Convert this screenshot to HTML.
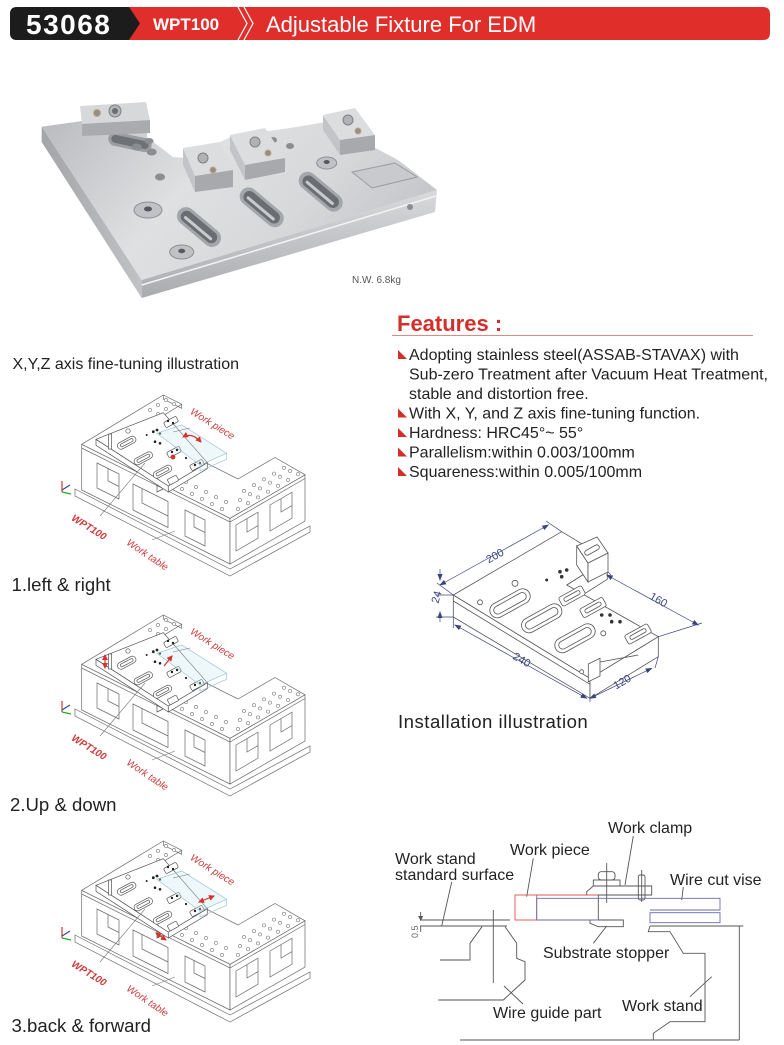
<!DOCTYPE html>
<html><head><meta charset="utf-8">
<style>
html,body{margin:0;padding:0;background:#fff;}
svg{display:block;font-family:"Liberation Sans",Arial,sans-serif;}
</style></head><body>
<svg width="784" height="1045" viewBox="0 0 784 1045" xmlns="http://www.w3.org/2000/svg">
<defs>
 <linearGradient id="topg" x1="0" y1="0" x2="1" y2="0.35">
  <stop offset="0" stop-color="#b9bbbe"/><stop offset="0.45" stop-color="#dfe0e2"/><stop offset="0.75" stop-color="#d6d8da"/><stop offset="1" stop-color="#c6c8cb"/>
 </linearGradient>
 <linearGradient id="frontg" x1="0" y1="0" x2="0" y2="1">
  <stop offset="0" stop-color="#d9dadc"/><stop offset="1" stop-color="#a9abaf"/>
 </linearGradient>
 <linearGradient id="leftg" x1="0" y1="0" x2="1" y2="0">
  <stop offset="0" stop-color="#a3a5a9"/><stop offset="1" stop-color="#c0c2c5"/>
 </linearGradient>
 <marker id="ra" markerWidth="6" markerHeight="6" refX="5" refY="3" orient="auto-start-reverse" markerUnits="userSpaceOnUse"><path d="M0,0 L6,3 L0,6z" fill="#d8322e"/></marker>
 <marker id="ba" markerWidth="7" markerHeight="6" refX="6" refY="3" orient="auto-start-reverse" markerUnits="userSpaceOnUse"><path d="M0,0.5 L7,3 L0,5.5z" fill="#3a4580"/></marker>
 <marker id="ga" markerWidth="5" markerHeight="5" refX="4" refY="2.5" orient="auto-start-reverse" markerUnits="userSpaceOnUse"><path d="M0,0 L5,2.5 L0,5z" fill="#555"/></marker>

 <g id="tbl">
  <g stroke="#6a6a6a" stroke-width="0.7" fill="#fff">
   <polygon points="75,489 230,569 310,526 310,532 230,576 75,496"/>
   <polygon points="81.7,444.3 230,518.3 230,564 81.7,490"/>
   <polygon points="230,518.3 305,474.8 305,521 230,564"/>
   <polygon points="81.7,444.3 163.3,395 181.7,404.3 140,429.7 238,479 275,457.5 305,474.8 230,518.3"/>
   <polyline points="81.7,448 230,522 305,478.5" fill="none"/>
   <polyline points="163.3,395 163.3,399 181.7,408.3 181.7,404.3" fill="none"/>
   <polygon points="97,463 119,474 119,499 97,488" fill="none"/>
   <polyline points="108,468.5 108,481 119,486.5" fill="none"/>
   <polygon points="133,484 168,501.5 168,527.5 133,510" fill="none"/>
   <polyline points="142,488.5 142,503 168,516" fill="none"/>
   <polygon points="185,510 205,520 205,546 185,536" fill="none"/>
   <polyline points="194,514.5 194,527 205,532.5" fill="none"/>
   <polygon points="236,525 258,512.2 258,538.2 236,551" fill="none"/>
   <polyline points="247,518.6 247,532 258,525.6" fill="none"/>
   <polygon points="270,505 292,492.2 292,518.2 270,531" fill="none"/>
   <polyline points="281,498.6 281,512 292,505.6" fill="none"/>
  </g>
  <g stroke="#777" stroke-width="0.6" fill="#fff">
   <circle cx="182" cy="489" r="1.6"/><circle cx="192" cy="494" r="1.6"/><circle cx="202" cy="499" r="1.6"/><circle cx="212" cy="504" r="1.6"/><circle cx="222" cy="509" r="1.6"/>
   <circle cx="186" cy="482" r="1.6"/><circle cx="196" cy="487" r="1.6"/><circle cx="206" cy="492" r="1.6"/><circle cx="216" cy="497" r="1.6"/><circle cx="226" cy="502" r="1.6"/>
   <circle cx="238" cy="509" r="1.6"/><circle cx="248" cy="503.2" r="1.6"/><circle cx="258" cy="497.4" r="1.6"/><circle cx="268" cy="491.6" r="1.6"/><circle cx="278" cy="485.8" r="1.6"/><circle cx="288" cy="480" r="1.6"/><circle cx="298" cy="474.2" r="1.6"/>
   <circle cx="240" cy="500" r="1.6"/><circle cx="250" cy="494.2" r="1.6"/><circle cx="260" cy="488.4" r="1.6"/><circle cx="270" cy="482.6" r="1.6"/><circle cx="280" cy="476.8" r="1.6"/><circle cx="290" cy="471" r="1.6"/>
   <circle cx="244" cy="491" r="1.6"/><circle cx="254" cy="485.2" r="1.6"/><circle cx="264" cy="479.4" r="1.6"/><circle cx="274" cy="473.6" r="1.6"/><circle cx="284" cy="467.8" r="1.6"/>
   <circle cx="150" cy="410" r="1.6"/><circle cx="158" cy="405" r="1.6"/><circle cx="166" cy="400" r="1.6"/><circle cx="158" cy="414" r="1.6"/><circle cx="166" cy="409" r="1.6"/><circle cx="174" cy="404" r="1.6"/>
  </g>
  <g stroke="#555" stroke-width="0.7" fill="#fff">
   <polygon points="96,439.3 168.3,486 168.3,492 96,445.3"/>
   <polygon points="168.3,486 207.3,462.7 207.3,468.7 168.3,492"/>
   <polygon points="96,439.3 163.3,412.7 207.3,462.7 168.3,486"/>
   <rect x="-10" y="-3.5" width="20" height="7" rx="3.5" transform="translate(126.7,442.7) rotate(-28)"/>
   <rect x="-7" y="-1.5" width="14" height="3" rx="1.5" transform="translate(126.7,442.7) rotate(-28)"/>
   <rect x="-10" y="-3.5" width="20" height="7" rx="3.5" transform="translate(143.3,458.3) rotate(-28)"/>
   <rect x="-7" y="-1.5" width="14" height="3" rx="1.5" transform="translate(143.3,458.3) rotate(-28)"/>
   <rect x="-10" y="-3.5" width="20" height="7" rx="3.5" transform="translate(162.5,471.7) rotate(-28)"/>
   <rect x="-7" y="-1.5" width="14" height="3" rx="1.5" transform="translate(162.5,471.7) rotate(-28)"/>
   <rect x="-7" y="-3" width="14" height="6" rx="1.5" transform="translate(171,422) rotate(-28)"/>
   <rect x="-7" y="-3" width="14" height="6" rx="1.5" transform="translate(174,452) rotate(-28)"/>
   <rect x="-7" y="-3" width="14" height="6" rx="1.5" transform="translate(197,465) rotate(-28)"/>
   <rect x="-5" y="-3" width="10" height="6" rx="1" transform="translate(173,480) rotate(-28)"/>
   <rect x="108.5" y="434" width="3" height="15"/>
   <circle cx="128" cy="431" r="2.2"/>
   <polyline points="157,485 157,492 163,489" fill="none"/>
  </g>
  <g fill="#222">
   <circle cx="146.7" cy="435" r="1"/><circle cx="153.3" cy="431.7" r="1.4"/><circle cx="157" cy="430" r="1.4"/><circle cx="160" cy="433.5" r="1.2"/>
   <circle cx="155" cy="441.7" r="1.3"/><circle cx="160" cy="443.3" r="1.3"/><circle cx="168" cy="421" r="1.2"/><circle cx="173" cy="423" r="1.2"/>
   <circle cx="172" cy="452" r="1.2"/><circle cx="177" cy="450" r="1.2"/><circle cx="195" cy="465" r="1.2"/><circle cx="200" cy="463" r="1.2"/><circle cx="186" cy="458" r="1.1"/>
  </g>
  <polygon points="156.7,433.3 181.7,425 226.7,453.3 200,465" fill="rgba(205,232,242,0.35)" stroke="#9cc4d4" stroke-width="0.7"/>
  <polyline points="200,465 200,471 226.7,459.3 226.7,453.3" fill="none" stroke="#9cc4d4" stroke-width="0.7"/>
  <g stroke="#777" stroke-width="0.6">
   <line x1="100" y1="516" x2="145" y2="463"/>
   <line x1="152" y1="540" x2="175" y2="531"/>
   <line x1="173" y1="432" x2="190" y2="428"/>
  </g>
  <line x1="62" y1="492" x2="62" y2="481" stroke="#d33" stroke-width="1.2"/>
  <line x1="62" y1="490" x2="70" y2="485" stroke="#34a" stroke-width="1.2"/>
  <line x1="62" y1="492" x2="71" y2="494" stroke="#2a2" stroke-width="1.2"/>
 </g>
</defs>

<!-- HEADER -->
<path d="M17,7 H763 Q770,7 770,14 V33 Q770,40 763,40 H17 Q10,40 10,33 V14 Q10,7 17,7 Z" fill="#e02f2b"/>
<path d="M17,7 H129 L140,23.5 L129,40 H17 Q10,40 10,33 V14 Q10,7 17,7 Z" fill="#1c1c1c"/>
<text x="26" y="34" font-size="28" font-weight="bold" fill="#fff" letter-spacing="1.5">53068</text>
<text x="153" y="30" font-size="17" font-weight="bold" fill="#fff">WPT100</text>
<path d="M238,7 L247,23.5 L238,40 M244,7 L253,23.5 L244,40" stroke="#fff" stroke-width="1.2" fill="none"/>
<text x="266" y="32" font-size="22" fill="#fff">Adjustable Fixture For EDM</text>

<!-- PRODUCT PHOTO -->
<polygon points="41.7,126.7 141.7,280 141.7,298 41.7,142" fill="url(#leftg)"/>
<polygon points="141.7,280 437,190 435,212 141.7,298" fill="url(#frontg)"/>
<line x1="141.7" y1="285" x2="436" y2="196" stroke="#f3f3f3" stroke-width="1.5"/>
<polygon points="41.7,126.7 82,121 147,123 147,137 173,157 186,158 233,136 290,128 326,122 398,160 437,190 141.7,280" fill="url(#topg)"/>
<g transform="translate(130,142) rotate(12)"><rect x="-22" y="-7" width="44" height="14" rx="7" fill="#9a9da1"/><rect x="-19" y="-4" width="38" height="8" rx="4" fill="#6e7176"/></g>
<g transform="translate(199,227) rotate(40)"><rect x="-26" y="-9" width="52" height="18" rx="9" fill="#a3a6aa"/><rect x="-22" y="-6" width="44" height="12" rx="6" fill="#6a6d72"/><rect x="-18" y="0" width="36" height="3" rx="1.5" fill="#c8cacc"/></g>
<g transform="translate(261.7,207.3) rotate(40)"><rect x="-26" y="-9" width="52" height="18" rx="9" fill="#a3a6aa"/><rect x="-22" y="-6" width="44" height="12" rx="6" fill="#6a6d72"/><rect x="-18" y="0" width="36" height="3" rx="1.5" fill="#c8cacc"/></g>
<g transform="translate(320.7,191.7) rotate(40)"><rect x="-26" y="-9" width="52" height="18" rx="9" fill="#a3a6aa"/><rect x="-22" y="-6" width="44" height="12" rx="6" fill="#6a6d72"/><rect x="-18" y="0" width="36" height="3" rx="1.5" fill="#c8cacc"/></g>
<ellipse cx="148" cy="210" rx="14" ry="8" fill="#bfc1c4" stroke="#8d9093"/>
<ellipse cx="148" cy="209" rx="4" ry="2.5" fill="#55585c"/>
<ellipse cx="181.7" cy="252" rx="12" ry="7" fill="#bfc1c4" stroke="#8d9093"/>
<ellipse cx="181.7" cy="251" rx="3.5" ry="2.2" fill="#55585c"/>
<ellipse cx="326.7" cy="163" rx="10" ry="6" fill="#bfc1c4" stroke="#8d9093"/>
<ellipse cx="326.7" cy="162" rx="3" ry="2" fill="#55585c"/>
<g fill="#8a8d91">
 <ellipse cx="136.7" cy="147" rx="5" ry="3.5"/><ellipse cx="151.7" cy="152" rx="5" ry="3.5"/><ellipse cx="149" cy="141" rx="4.5" ry="3"/>
 <ellipse cx="160" cy="177" rx="5" ry="3.5"/><ellipse cx="273" cy="140" rx="4" ry="3"/><ellipse cx="290" cy="146" rx="4" ry="3"/><ellipse cx="276" cy="151" rx="3.5" ry="2.5"/>
 <circle cx="410" cy="207" r="3"/><circle cx="186" cy="160" r="3"/>
</g>
<polygon points="80,106 146,102 150,120 82,124" fill="#d7d8da"/>
<polygon points="82,124 150,120 150,133 82,136" fill="#a9abaf"/>
<circle cx="97" cy="113" r="3.5" fill="#8c8f93" stroke="#c9a77a"/><circle cx="115" cy="111" r="6" fill="#b3b5b8" stroke="#7e8185"/><circle cx="115" cy="111" r="3" fill="#6b6e72"/>
<polygon points="183,148 195,176 195,192 183,165" fill="#c2c4c7"/>
<polygon points="183,148 220,142 233,170 195,176" fill="#dcdddf"/>
<polygon points="195,176 233,170 233,187 195,192" fill="#a7a9ad"/>
<circle cx="203" cy="158" r="5" fill="#b0b2b5" stroke="#7e8185"/><circle cx="213" cy="170" r="3" fill="#8c8f93" stroke="#c9a77a"/>
<polygon points="230,135 245,165 245,180 230,150" fill="#c2c4c7"/>
<polygon points="230,135 265,128 285,158 245,165" fill="#dcdddf"/>
<polygon points="245,165 285,158 285,172 245,180" fill="#a7a9ad"/>
<circle cx="255" cy="142" r="5" fill="#b0b2b5" stroke="#7e8185"/><circle cx="268" cy="153" r="3" fill="#8c8f93" stroke="#c9a77a"/>
<polygon points="323,115 340,140 340,155 323,130" fill="#c2c4c7"/>
<polygon points="323,115 355,108 375,135 340,140" fill="#dcdddf"/>
<polygon points="340,140 375,135 375,150 340,155" fill="#a7a9ad"/>
<circle cx="348" cy="120" r="5" fill="#b0b2b5" stroke="#7e8185"/><circle cx="358" cy="131" r="3" fill="#8c8f93" stroke="#c9a77a"/>
<polygon points="352,172 395,163 417,177 372,188" fill="#c8cacd" stroke="#9a9c9f"/>
<text x="352" y="283" font-size="10" fill="#555">N.W. 6.8kg</text>

<!-- FEATURES -->
<text x="397" y="331" font-size="22" font-weight="bold" fill="#d42e2a">Features :</text>
<line x1="392" y1="335.5" x2="753" y2="335.5" stroke="#e08a88" stroke-width="1"/>
<g fill="#d42e2a">
 <polygon points="398,350 398,359 407,359"/>
 <polygon points="398,408.5 398,417.5 407,417.5"/>
 <polygon points="398,428 398,437 407,437"/>
 <polygon points="398,447.5 398,456.5 407,456.5"/>
 <polygon points="398,467 398,476 407,476"/>
</g>
<g font-size="16" fill="#222">
 <text x="409" y="360">Adopting stainless steel(ASSAB-STAVAX) with</text>
 <text x="409" y="379.5">Sub-zero Treatment after Vacuum Heat Treatment,</text>
 <text x="409" y="399">stable and distortion free.</text>
 <text x="409" y="418.5">With X, Y, and Z axis fine-tuning function.</text>
 <text x="409" y="438">Hardness: HRC45°~ 55°</text>
 <text x="409" y="457.5">Parallelism:within 0.003/100mm</text>
 <text x="409" y="477">Squareness:within 0.005/100mm</text>
</g>

<!-- LEFT ILLUSTRATIONS -->
<text x="12.5" y="369" font-size="16" fill="#222">X,Y,Z axis fine-tuning illustration</text>
<use href="#tbl"/>
<use href="#tbl" transform="translate(0,220)"/>
<use href="#tbl" transform="translate(0,446)"/>
<g font-size="10" font-style="italic" fill="#cc3b3b" text-anchor="middle">
 <text transform="translate(210.7,426.5) rotate(32)">Work piece</text>
 <text transform="translate(87.3,530) rotate(32)" font-weight="bold">WPT100</text>
 <text transform="translate(145.7,557.5) rotate(34)">Work table</text>
 <text transform="translate(210.7,646.5) rotate(32)">Work piece</text>
 <text transform="translate(87.3,750) rotate(32)" font-weight="bold">WPT100</text>
 <text transform="translate(145.7,777.5) rotate(34)">Work table</text>
 <text transform="translate(210.7,872.5) rotate(32)">Work piece</text>
 <text transform="translate(87.3,976) rotate(32)" font-weight="bold">WPT100</text>
 <text transform="translate(145.7,1003.5) rotate(34)">Work table</text>
</g>
<g stroke="#d8322e" stroke-width="1.2" fill="none">
 <path d="M183,437 Q192,432 201,442" marker-start="url(#ra)" marker-end="url(#ra)"/>
 <circle cx="173" cy="457" r="1.8" fill="#d8322e"/>
 <line x1="105" y1="655" x2="105" y2="668" marker-start="url(#ra)" marker-end="url(#ra)"/>
 <line x1="164" y1="666" x2="172" y2="656" marker-end="url(#ra)"/>
 <line x1="199" y1="902" x2="214" y2="896" marker-start="url(#ra)" marker-end="url(#ra)"/>
 <line x1="156" y1="933" x2="166" y2="940" marker-start="url(#ra)" marker-end="url(#ra)"/>
</g>
<g font-size="18.6" fill="#222">
 <text x="11.5" y="591">1.left &amp; right</text>
 <text x="10" y="811">2.Up &amp; down</text>
 <text x="11.5" y="1032">3.back &amp; forward</text>
</g>

<!-- INSTALLATION ILLUSTRATION -->
<g stroke="#555" stroke-width="0.8" fill="#fff">
 <polygon points="453.3,595 590,678.3 590,698.3 453.3,617"/>
 <polygon points="590,678.3 658.3,636.7 658.3,656.7 590,698.3"/>
 <polygon points="607.3,559.3 566.7,585 566.7,605 607.3,579.3"/>
 <polygon points="453.3,595 561.7,531.7 607.3,559.3 566.7,585 658.3,636.7 590,678.3"/>
 <line x1="453.3" y1="601" x2="590" y2="684.3" fill="none"/>
 <g transform="translate(510,603.3) rotate(-29)"><rect x="-22" y="-7.5" width="44" height="15" rx="7.5"/><rect x="-18" y="-4" width="36" height="8" rx="4"/></g>
 <g transform="translate(541.7,618.3) rotate(-29)"><rect x="-22" y="-7.5" width="44" height="15" rx="7.5"/><rect x="-18" y="-4" width="36" height="8" rx="4"/></g>
 <g transform="translate(575,638.3) rotate(-29)"><rect x="-22" y="-7.5" width="44" height="15" rx="7.5"/><rect x="-18" y="-4" width="36" height="8" rx="4"/></g>
 <polygon points="576.7,546 588,563 588,582 576.7,565"/>
 <polygon points="588,563 608,553 608,572 588,582"/>
 <polygon points="576.7,546 597,537 608,553 588,563"/>
 <g transform="translate(592,550) rotate(-29)"><rect x="-8" y="-2.5" width="16" height="5" rx="2.5"/></g>
 <g transform="translate(572,596) rotate(-29)"><rect x="-13" y="-5" width="26" height="10" rx="2"/><rect x="-9" y="-2" width="18" height="4" rx="2"/></g>
 <g transform="translate(593,607.5) rotate(-29)"><rect x="-13" y="-5" width="26" height="10" rx="2"/><rect x="-9" y="-2" width="18" height="4" rx="2"/></g>
 <g transform="translate(638,634) rotate(-29)"><rect x="-13" y="-5" width="26" height="10" rx="2"/><rect x="-9" y="-2" width="18" height="4" rx="2"/></g>
 <circle cx="515" cy="583.3" r="3"/><circle cx="480" cy="602.3" r="2.5"/><circle cx="603.3" cy="633.3" r="2.5"/><circle cx="581.7" cy="671.7" r="2"/>
 <polygon points="588.3,664 600,658.3 600,676 588.3,681.7"/>
 <line x1="600" y1="662" x2="638.3" y2="655"/>
</g>
<g fill="#333">
 <circle cx="546.7" cy="580" r="1.5"/><circle cx="560" cy="571.7" r="1.8"/><circle cx="566.7" cy="570" r="1.8"/><circle cx="561.7" cy="576.7" r="1.8"/>
 <circle cx="601.7" cy="615" r="1.8"/><circle cx="610" cy="615" r="1.8"/><circle cx="620" cy="621.7" r="1.8"/><circle cx="611.7" cy="621.7" r="1.8"/>
</g>
<g stroke="#3a4580" stroke-width="0.7" fill="none">
 <line x1="440" y1="585" x2="548.3" y2="525" marker-start="url(#ba)" marker-end="url(#ba)"/>
 <line x1="453.3" y1="595" x2="437" y2="583"/>
 <line x1="561.7" y1="531.7" x2="546" y2="521"/>
 <line x1="440" y1="569" x2="440" y2="580" marker-end="url(#ba)"/>
 <line x1="440" y1="622" x2="440" y2="612" marker-end="url(#ba)"/>
 <line x1="436" y1="595" x2="453" y2="595"/>
 <line x1="436" y1="617" x2="453" y2="617"/>
 <line x1="455" y1="625" x2="586.7" y2="698.3" marker-start="url(#ba)" marker-end="url(#ba)"/>
 <line x1="453.3" y1="617" x2="453.3" y2="628"/>
 <line x1="590" y1="698.3" x2="590" y2="702"/>
 <line x1="606.7" y1="575" x2="698.3" y2="625" marker-start="url(#ba)" marker-end="url(#ba)"/>
 <line x1="658.3" y1="636.7" x2="702" y2="623"/>
 <line x1="608" y1="572" x2="611" y2="575"/>
 <line x1="590" y1="698.3" x2="651.7" y2="668.3" marker-start="url(#ba)" marker-end="url(#ba)"/>
 <line x1="658.3" y1="656.7" x2="655" y2="668"/>
</g>
<g font-size="11" fill="#3a4580" text-anchor="middle">
 <text transform="translate(496.7,559) rotate(-29)">200</text>
 <text transform="translate(440,598) rotate(-75)">24</text>
 <text transform="translate(520,663) rotate(30)">240</text>
 <text transform="translate(656.7,603) rotate(30)">160</text>
 <text transform="translate(624,685) rotate(-30)">120</text>
</g>
<text x="398" y="728" font-size="18.6" letter-spacing="0.5" fill="#222">Installation illustration</text>

<!-- BOTTOM DIAGRAM -->
<g stroke="#555" stroke-width="0.9" fill="none">
 <line x1="420" y1="920" x2="510" y2="920"/>
 <line x1="420" y1="926" x2="507" y2="926"/>
 <line x1="420.7" y1="912" x2="420.7" y2="920" marker-end="url(#ga)"/>
 <line x1="420.7" y1="926" x2="420.7" y2="932"/>
 <line x1="451.7" y1="882" x2="441.7" y2="926"/>
 <line x1="493.3" y1="910" x2="493.3" y2="983"/>
 <line x1="488" y1="926" x2="498" y2="926"/>
 <polyline points="482,926.7 470,943.3 470,960 440,960"/>
 <polyline points="505,926.7 516.7,943.3 516.7,958.3 525,961.7 525,980 503.3,1000 438.3,1000"/>
 <line x1="504" y1="986" x2="523" y2="1004"/>
 <line x1="598.3" y1="895" x2="598.3" y2="920"/>
 <polygon points="590,920 623.3,920 623.3,926.7 598.3,926.7 590,923.3"/>
 <polygon points="586.7,891.7 593.3,886 651.7,886 651.7,895 586.7,895"/>
 <rect x="593.3" y="880" width="26.7" height="6"/>
 <rect x="598.3" y="871.7" width="16.7" height="8.3" rx="3"/>
 <line x1="606.7" y1="863" x2="606.7" y2="903"/>
 <rect x="638.3" y="875" width="6.7" height="25" rx="2"/>
 <line x1="641.7" y1="870" x2="641.7" y2="902"/>
 <line x1="633.3" y1="836" x2="625" y2="885"/>
 <line x1="533.3" y1="858.3" x2="526.7" y2="896.7"/>
 <line x1="683.3" y1="887" x2="681.7" y2="900"/>
 <line x1="606.7" y1="926" x2="593.3" y2="943.3"/>
 <line x1="690" y1="996.7" x2="711.7" y2="976.7"/>
 <line x1="650" y1="926" x2="743.3" y2="926"/>
 <line x1="739.3" y1="926" x2="739.3" y2="1040"/>
 <line x1="460" y1="1040" x2="739.3" y2="1040"/>
 <polyline points="650,926 648.3,931.7 670,931.7 683.3,953.3 705,953.3 705,1021.7 670,1021.7 653.3,1033.3 653.3,1040"/>
</g>
<g stroke="#e05050" stroke-width="0.9" fill="none">
 <rect x="515" y="895" width="21.7" height="25"/>
 <line x1="536.7" y1="895" x2="598.3" y2="895"/>
</g>
<g stroke="#6a6aaa" stroke-width="0.9" fill="none">
 <polyline points="536.7,898.3 720,898.3 720,910 650,910"/>
 <rect x="650" y="912.7" width="70" height="10"/>
 <line x1="536.7" y1="898.3" x2="536.7" y2="920"/>
 <line x1="536.7" y1="920" x2="598.3" y2="920"/>
</g>
<text transform="translate(418,938) rotate(-90)" font-size="9" fill="#666">0.5</text>
<g font-size="16" fill="#222">
 <text x="608" y="833">Work clamp</text>
 <text x="510" y="855">Work piece</text>
 <text x="395" y="864">Work stand</text>
 <text x="395" y="880">standard surface</text>
 <text x="670" y="885">Wire cut vise</text>
 <text x="543" y="958">Substrate stopper</text>
 <text x="622" y="1011">Work stand</text>
 <text x="493" y="1018">Wire guide part</text>
</g>
</svg>
</body></html>
